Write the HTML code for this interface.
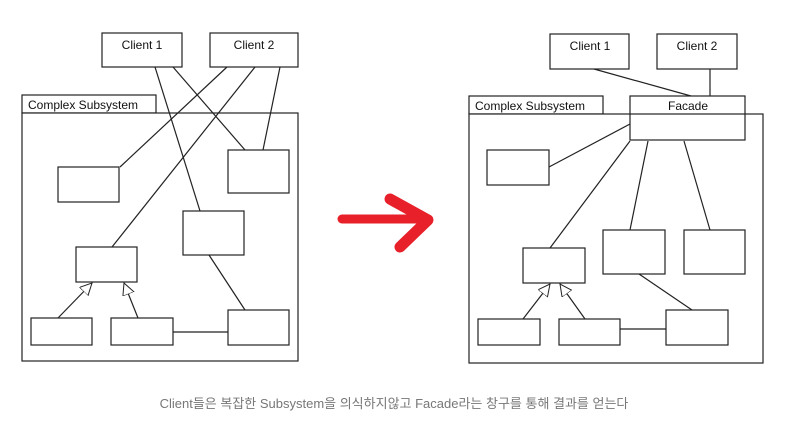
<!DOCTYPE html>
<html><head><meta charset="utf-8"><style>
body{margin:0;background:#fff;width:788px;height:434px;overflow:hidden}
svg text{font-family:"Liberation Sans","Noto Sans CJK KR",sans-serif}
</style></head><body>
<svg width="788" height="434" xmlns="http://www.w3.org/2000/svg">
<defs><marker id="tri" markerWidth="14" markerHeight="14" refX="12" refY="6" orient="auto" markerUnits="userSpaceOnUse"><path d="M0,0 L12,6 L0,12 Z" fill="#fff" stroke="#222" stroke-width="1"/></marker></defs>
<g fill="#fff" stroke="#222" stroke-width="1.2">
<rect x="22" y="95" width="134" height="18"/>
<rect x="22" y="113" width="276" height="248"/>
<rect x="102" y="33" width="80" height="34"/>
<rect x="210" y="33" width="88" height="34"/>
<rect x="58" y="167" width="61" height="35"/>
<rect x="228" y="150" width="61" height="43"/>
<rect x="183" y="211" width="61" height="44"/>
<rect x="76" y="247" width="61" height="35"/>
<rect x="31" y="318" width="61" height="27"/>
<rect x="111" y="318" width="62" height="27"/>
<rect x="228" y="310" width="61" height="35"/>
<line x1="155" y1="67" x2="200" y2="211"/>
<line x1="173" y1="67" x2="245" y2="150"/>
<line x1="227" y1="67" x2="120" y2="167"/>
<line x1="255" y1="67" x2="112" y2="247"/>
<line x1="280" y1="67" x2="263" y2="150"/>
<line x1="209" y1="255" x2="245" y2="310"/>
<line x1="173" y1="332" x2="228" y2="332"/>
<line x1="58" y1="318" x2="92" y2="283" marker-end="url(#tri)"/>
<line x1="138" y1="318" x2="124" y2="283" marker-end="url(#tri)"/>
<rect x="469" y="96" width="134" height="18"/>
<rect x="469" y="114" width="294" height="249"/>
<rect x="550" y="34" width="79" height="35"/>
<rect x="657" y="34" width="80" height="35"/>
<rect x="630" y="96" width="115" height="44" fill="none"/>
<rect x="487" y="150" width="62" height="35"/>
<rect x="523" y="248" width="62" height="35"/>
<rect x="603" y="230" width="62" height="44"/>
<rect x="684" y="230" width="61" height="44"/>
<rect x="478" y="319" width="62" height="26"/>
<rect x="559" y="319" width="61" height="26"/>
<rect x="666" y="310" width="62" height="35"/>
<line x1="594" y1="69" x2="691" y2="96"/>
<line x1="710" y1="69" x2="710" y2="96"/>
<line x1="630" y1="124" x2="549" y2="167"/>
<line x1="630" y1="141" x2="550" y2="248"/>
<line x1="648" y1="141" x2="630" y2="230"/>
<line x1="684" y1="141" x2="710" y2="230"/>
<line x1="639" y1="274" x2="692" y2="310"/>
<line x1="620" y1="329" x2="666" y2="329"/>
<line x1="523" y1="319" x2="550" y2="284" marker-end="url(#tri)"/>
<line x1="585" y1="319" x2="560" y2="284" marker-end="url(#tri)"/>
</g>
<rect x="631" y="97" width="113" height="16" fill="#fff"/>
<line x1="630" y1="114" x2="745" y2="114" stroke="#222" stroke-width="0.6"/>
<g font-size="12" fill="#111">
<text x="142" y="49" text-anchor="middle">Client 1</text>
<text x="254" y="49" text-anchor="middle">Client 2</text>
<text x="28" y="109">Complex Subsystem</text>
<text x="590" y="50" text-anchor="middle">Client 1</text>
<text x="697" y="50" text-anchor="middle">Client 2</text>
<text x="475" y="110">Complex Subsystem</text>
<text x="688" y="110" text-anchor="middle">Facade</text>
</g>
<g stroke="#e8202a" fill="none" stroke-linecap="round" stroke-linejoin="round">
<line x1="342" y1="219" x2="420" y2="219" stroke-width="9"/>
<polyline points="390,199 428,220 400,247" stroke-width="11"/>
</g>
<text x="394" y="408" text-anchor="middle" font-size="13" fill="#777">Client들은 복잡한 Subsystem을 의식하지않고 Facade라는 창구를 통해 결과를 얻는다</text>
</svg>
</body></html>
